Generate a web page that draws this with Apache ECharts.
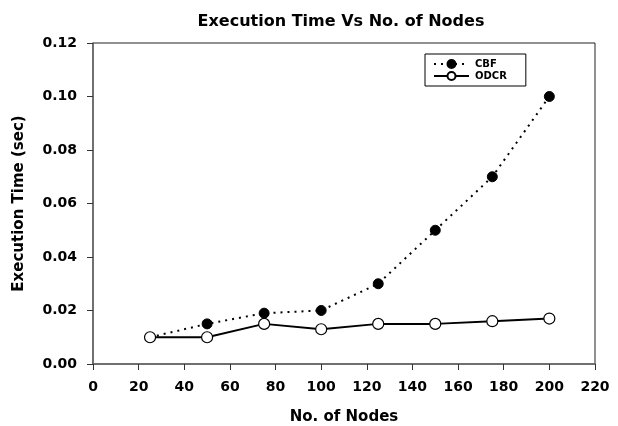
<!DOCTYPE html>
<html>
<head>
<meta charset="utf-8">
<script src="https://cdn.jsdelivr.net/npm/echarts@6/dist/echarts.min.js"></script>
<style>
  html, body { margin: 0; padding: 0; background: #fff; }
  #chart { width: 618px; height: 426px; }
</style>
</head>
<body>
<div id="chart"></div>
<script>
// data
const nodes = [25, 50, 75, 100, 125, 150, 175, 200]
const cbf = [0.010, 0.015, 0.019, 0.020, 0.030, 0.050, 0.070, 0.100]
const odcr = [0.010, 0.010, 0.015, 0.013, 0.015, 0.015, 0.016, 0.017]

const font = 'DejaVu Sans, Verdana, sans-serif'
const pairs = (ys) => nodes.map((x, i) => [x, ys[i]])

const chart = echarts.init(document.getElementById('chart'))

chart.setOption({
  animation: false,
  title: {
    text: 'Execution Time Vs No. of Nodes',
    left: 336,
    textAlign: 'center',
    top: 9,
    textStyle: { fontFamily: font, fontSize: 16, fontWeight: 'bold', color: '#000' }
  },
  legend: {
    orient: 'vertical',
    left: 425,
    top: 54,
    padding: [5, 19, 5, 8],
    itemGap: 2,
    itemWidth: 35,
    itemHeight: 10,
    borderColor: '#000',
    borderWidth: 1,
    textStyle: { fontFamily: font, fontSize: 10, fontWeight: 'bold', color: '#000', padding: [0, 0, 0, 1] },
    data: ['CBF', 'ODCR']
  },
  grid: {
    left: 93,
    right: 23,
    top: 43,
    bottom: 62,
    outerBoundsMode: 'none',
    show: true,
    borderColor: '#222',
    borderWidth: 1
  },
  xAxis: {
    type: 'value',
    min: 0,
    max: 220,
    interval: 20,
    name: 'No. of Nodes',
    nameLocation: 'middle',
    nameGap: 46,
    nameTextStyle: { fontFamily: font, fontSize: 15, fontWeight: 'bold', color: '#000' },
    axisLine: { lineStyle: { color: '#666', width: 1.5 } },
    axisTick: { show: true, length: 6, lineStyle: { color: '#333' } },
    axisLabel: { fontFamily: font, fontSize: 14, fontWeight: 'bold', color: '#000', margin: 16 },
    splitLine: { show: false }
  },
  yAxis: {
    type: 'value',
    min: 0,
    max: 0.12,
    interval: 0.02,
    name: 'Execution Time (sec)',
    nameLocation: 'middle',
    nameGap: 66,
    nameTextStyle: { fontFamily: font, fontSize: 15, fontWeight: 'bold', color: '#000' },
    axisLine: { show: true, lineStyle: { color: '#666', width: 1.5 } },
    axisTick: { show: true, length: 6, lineStyle: { color: '#333' } },
    axisLabel: {
      fontFamily: font, fontSize: 14, fontWeight: 'bold', color: '#000', margin: 16,
      formatter: (v) => v.toFixed(2)
    },
    splitLine: { show: false }
  },
  series: [
    {
      name: 'CBF',
      type: 'line',
      data: pairs(cbf),
      symbol: 'circle',
      symbolSize: 10,
      itemStyle: { color: '#000', borderColor: '#000', borderWidth: 1 },
      lineStyle: { color: '#000', width: 2, type: [2, 5] }
    },
    {
      name: 'ODCR',
      type: 'line',
      data: pairs(odcr),
      symbol: 'circle',
      symbolSize: 11,
      itemStyle: { color: '#fff', borderColor: '#000', borderWidth: 1.2 },
      lineStyle: { color: '#000', width: 2 }
    }
  ]
})
</script>
</body>
</html>
